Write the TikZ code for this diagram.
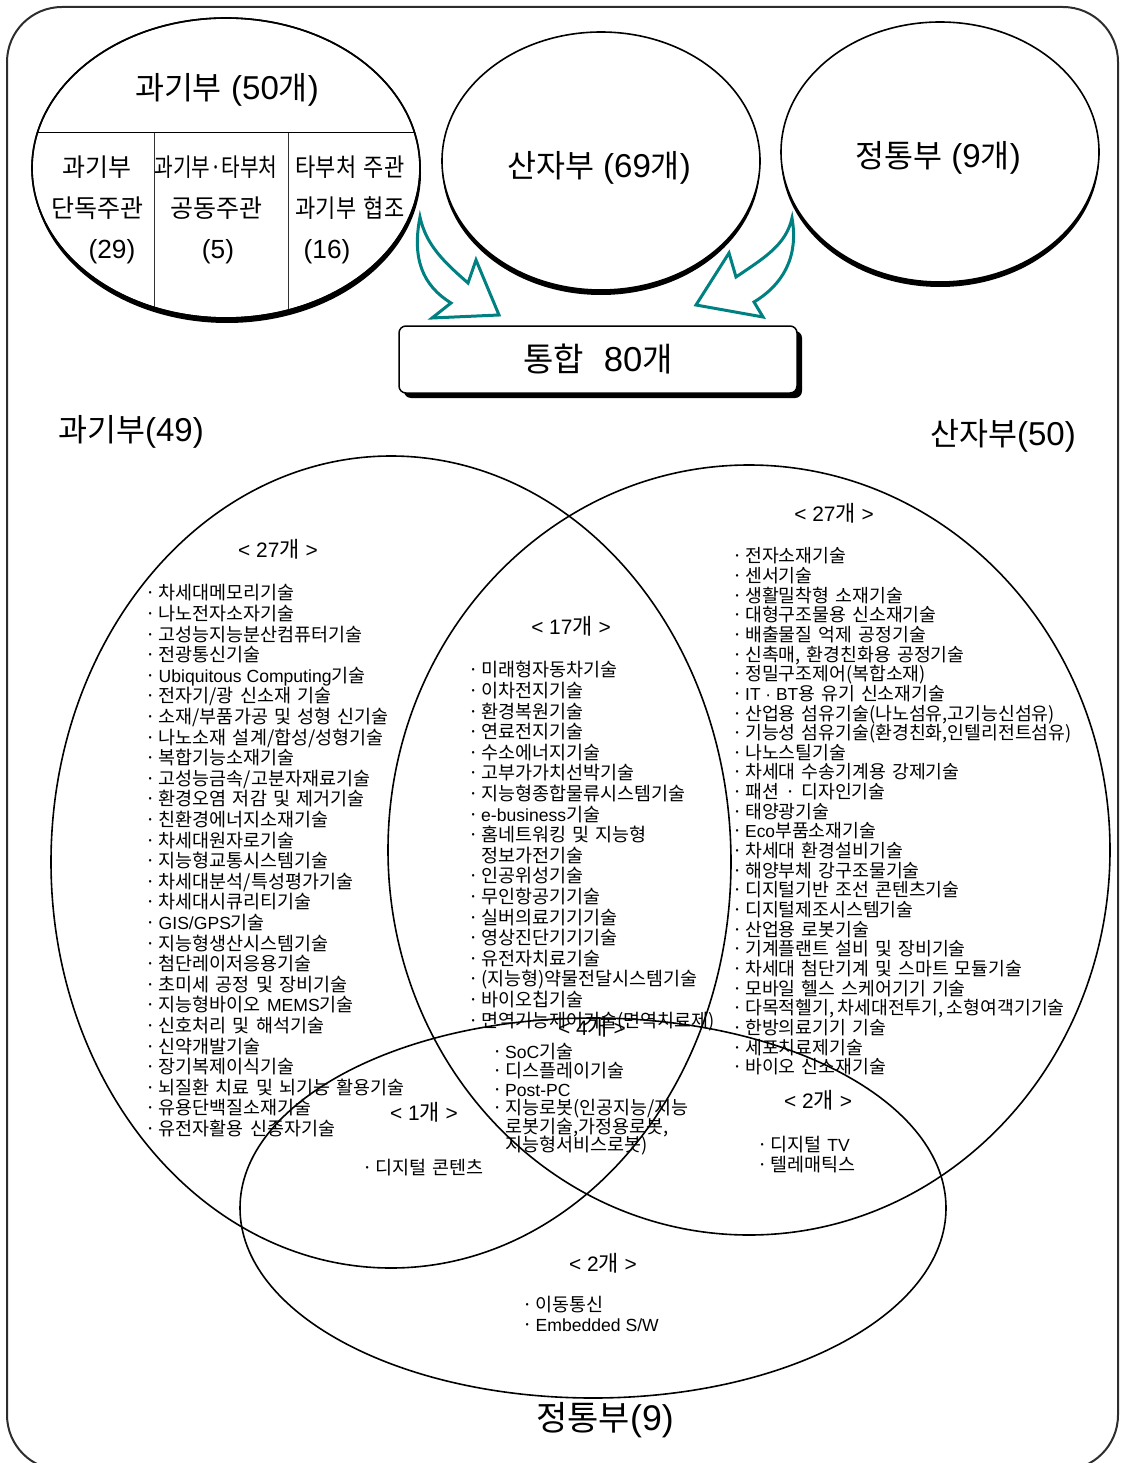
\documentclass[tikz,border=0pt]{standalone}
\usepackage{fontspec}
\usepackage{graphicx}
\setmainfont{Noto Sans CJK KR}[WordSpace=1.5]
\newfontfamily\lat{Liberation Sans}[Scale=0.95]
\newfontfamily\latt{Liberation Sans}[Scale=1.05]
\usetikzlibrary{shapes.geometric}
\definecolor{arrteal}{RGB}{0,128,128}
\definecolor{framec}{RGB}{45,45,45}
\newcommand{\bmk}{\makebox[16pt][c]{·}}
\newcommand{\bsp}{\hspace*{16pt}}
\begin{document}
\begin{tikzpicture}[x=1pt,y=-1pt,
  every node/.style={inner sep=0pt},
  topell/.style={ellipse, draw, line width=1.6pt, fill=white},
  shad/.style={ellipse, fill=black},
  venn/.style={ellipse, draw, line width=1.6pt},
  blockarrow/.style={draw=arrteal, line width=3pt, fill=white, line join=miter},
  litem/.style={anchor=base west, font=\fontsize{18.5}{20}\selectfont},
  ritem/.style={anchor=base west, font=\fontsize{18.3}{20}\selectfont},
  cnt/.style={font=\fontsize{22}{24}\selectfont},
  ttl/.style={font=\fontsize{31.5}{34}\selectfont},
  sub/.style={font=\fontsize{25}{28}\selectfont},
  big/.style={font=\fontsize{31.5}{36}\selectfont}]
\useasboundingbox (0,0) rectangle (1120,1463);

% frame
\node[draw=framec, line width=2pt, rounded corners=55pt, minimum width=1111pt, minimum height=1463pt] (frame) at (562.5,738.5) {};

% ---------- top part ----------
\node[shad, minimum width=388pt, minimum height=300pt] (e1s) at (227,173) {};
\node[topell, minimum width=388pt, minimum height=300pt] (e1) at (226,168) {};
\begin{scope}
  \clip (226,168) ellipse [x radius=194pt, y radius=150pt];
  \draw[line width=1pt] (20,133) -- (440,133);
  \draw[line width=1pt, black!80] (154.5,133) -- (154.5,330);
  \draw[line width=1pt, black!80] (288,133) -- (288,330);
\end{scope}
\draw[line width=1.6pt] (226,168) ellipse [x radius=194pt, y radius=150pt];

\node[shad, minimum width=318pt, minimum height=258pt] (e2s) at (601,166) {};
\node[topell, minimum width=318pt, minimum height=258pt] (e2) at (601,161) {};
\node[shad, minimum width=318pt, minimum height=260pt] (e3s) at (940,157) {};
\node[topell, minimum width=318pt, minimum height=260pt] (e3) at (940,152) {};

\node[ttl] (t1) at (227,90) {과기부{\latt\ (50}개{\latt )}};
\node[sub] (c11) at (97,167) {과기부};
\node[sub] (c12) at (97,208) {단독주관};
\node[sub] (c13) at (112,252) {\latt (29)};
\node[sub] (c21) at (216,167) {\scalebox{0.81}[1]{과기부·타부처}};
\node[sub] (c22) at (216,208) {공동주관};
\node[sub] (c23) at (218,252) {\latt (5)};
\node[sub] (c31) at (350,167) {\scalebox{0.88}[1]{타부처 주관}};
\node[sub] (c32) at (350,208) {\scalebox{0.88}[1]{과기부 협조}};
\node[sub] (c33) at (327,252) {\latt (16)};
\node[ttl] (t2) at (599,168) {산자부{\latt\ (69}개{\latt )}};
\node[ttl] (t3) at (938,158) {정통부{\latt\ (9}개{\latt )}};

% block arrows
\draw[blockarrow] (420,217) .. controls (412,258) and (422,285) .. (451,303) -- (432,318) -- (499,315) -- (476,260) -- (468,283) .. controls (444,262) and (426,245) .. cycle;
\draw[blockarrow] (792,218) .. controls (799,258) and (782,285) .. (754,302) -- (763,317) -- (696,305) -- (729,253) -- (736,277) .. controls (764,258) and (786,245) .. cycle;

% total box
\node[fill=black, rounded corners=7pt, minimum width=398pt, minimum height=67pt] (tots) at (603,364.5) {};
\node[draw, line width=1.5pt, fill=white, rounded corners=7pt, minimum width=398pt, minimum height=67pt, font=\fontsize{33}{36}\selectfont] (tot) at (598,359.5) {통합\hspace{20pt}{\latt 80}개};

% ---------- Venn ----------
\node[big] (lab1) at (131,432) {과기부{\latt (49)}};
\node[big] (lab2) at (1003,436) {산자부{\latt (50)}};
\node[font=\fontsize{34}{38}\selectfont] (lab3) at (605,1420) {정통부{\latt (9)}};

\node[venn, minimum width=680pt, minimum height=812pt] (vl) at (391,862) {};
\node[venn, minimum width=722pt, minimum height=770pt] (vr) at (749,850) {};
\node[venn, minimum width=706pt, minimum height=380pt] (vb) at (593,1208) {};

\node[cnt] (n27l) at (278,549) {{\lat < 27}개{\lat\ >}};
\node[cnt] (n17) at (571,626) {{\lat < 17}개{\lat\ >}};
\node[cnt] (n27r) at (834,513) {{\lat < 27}개{\lat\ >}};
\node[cnt] (n4) at (592,1027) {{\lat < 4}개{\lat\ >}};
\node[cnt] (n1) at (424,1112) {{\lat < 1}개{\lat\ >}};
\node[cnt] (n2r) at (818,1100) {{\lat < 2}개{\lat\ >}};
\node[cnt] (n2b) at (603,1263) {{\lat < 2}개{\lat\ >}};

\foreach \t [count=\i] in {
 {\bmk 차세대메모리기술},
 {\bmk 나노전자소자기술},
 {\bmk 고성능지능분산컴퓨터기술},
 {\bmk 전광통신기술},
 {\bmk {\lat Ubiquitous Computing}기술},
 {\bmk 전자기/광 신소재 기술},
 {\bmk 소재/부품가공 및 성형 신기술},
 {\bmk 나노소재 설계/합성/성형기술},
 {\bmk 복합기능소재기술},
 {\bmk 고성능금속/고분자재료기술},
 {\bmk 환경오염 저감 및 제거기술},
 {\bmk 친환경에너지소재기술},
 {\bmk 차세대원자로기술},
 {\bmk 지능형교통시스템기술},
 {\bmk 차세대분석/특성평가기술},
 {\bmk 차세대시큐리티기술},
 {\bmk {\lat GIS/GPS}기술},
 {\bmk 지능형생산시스템기술},
 {\bmk 첨단레이저응용기술},
 {\bmk 초미세 공정 및 장비기술},
 {\bmk 지능형바이오 {\lat MEMS}기술},
 {\bmk 신호처리 및 해석기술},
 {\bmk 신약개발기술},
 {\bmk 장기복제이식기술},
 {\bmk 뇌질환 치료 및 뇌기능 활용기술},
 {\bmk 유용단백질소재기술},
 {\bmk 유전자활용 신종자기술}}
 \node[litem] (L\i) at (142.5,{599.9+(\i-1)*20.6}) {\t};

\foreach \t [count=\i] in {
 {\bmk 미래형자동차기술},
 {\bmk 이차전지기술},
 {\bmk 환경복원기술},
 {\bmk 연료전지기술},
 {\bmk 수소에너지기술},
 {\bmk 고부가가치선박기술},
 {\bmk 지능형종합물류시스템기술},
 {\bmk {\lat e-business}기술},
 {\bmk 홈네트워킹 및 지능형},
 {\bsp 정보가전기술},
 {\bmk 인공위성기술},
 {\bmk 무인항공기기술},
 {\bmk 실버의료기기기술},
 {\bmk 영상진단기기기술},
 {\bmk 유전자치료기술},
 {\bmk (지능형)약물전달시스템기술},
 {\bmk 바이오칩기술},
 {\bmk 면역기능제어기술(면역치료제)}}
 \node[litem] (C\i) at (465,{676.9+(\i-1)*20.6}) {\t};

\foreach \t [count=\i] in {
 {\bmk {\lat SoC}기술},
 {\bmk 디스플레이기술},
 {\bmk {\lat Post-PC}},
 {\bmk 지능로봇(인공지능/지능},
 {\bsp 로봇기술,가정용로봇,},
 {\bsp 지능형서비스로봇)}}
 \node[litem] (F\i) at (489,{1058.9+(\i-1)*18.6}) {\t};

\foreach \t [count=\i] in {
 {\bmk 전자소재기술},
 {\bmk 센서기술},
 {\bmk 생활밀착형 소재기술},
 {\bmk 대형구조물용 신소재기술},
 {\bmk 배출물질 억제 공정기술},
 {\bmk 신촉매, 환경친화용 공정기술},
 {\bmk 정밀구조제어(복합소재)},
 {\bmk {\lat IT · BT}용 유기 신소재기술},
 {\bmk 산업용 섬유기술(나노섬유,고기능신섬유)},
 {\bmk 기능성 섬유기술(환경친화,인텔리전트섬유)},
 {\bmk 나노스틸기술},
 {\bmk 차세대 수송기계용 강제기술},
 {\bmk 패션 · 디자인기술},
 {\bmk 태양광기술},
 {\bmk {\lat Eco}부품소재기술},
 {\bmk 차세대 환경설비기술},
 {\bmk 해양부체 강구조물기술},
 {\bmk 디지털기반 조선 콘텐츠기술},
 {\bmk 디지털제조시스템기술},
 {\bmk 산업용 로봇기술},
 {\bmk 기계플랜트 설비 및 장비기술},
 {\bmk 차세대 첨단기계 및 스마트 모듈기술},
 {\bmk 모바일 헬스 스케어기기 기술},
 {\bmk 다목적헬기,\hspace{-3pt} 차세대전투기,\hspace{-3pt} 소형여객기기술},
 {\bmk 한방의료기기 기술},
 {\bmk 세포치료제기술},
 {\bmk 바이오 신소재기술}}
 \node[ritem] (R\i) at (729,{562.8+(\i-1)*19.65}) {\t};

\node[litem] (D1) at (359,1174.9) {\bmk 디지털 콘텐츠};
\node[litem] (T1) at (754,1151.9) {\bmk 디지털 {\lat TV}};
\node[litem] (T2) at (754,1171.9) {\bmk 텔레매틱스};
\node[litem] (M1) at (519.5,1311.9) {\bmk 이동통신};
\node[litem] (M2) at (519.5,1331) {\bmk {\lat Embedded S/W}};
\end{tikzpicture}
\end{document}
